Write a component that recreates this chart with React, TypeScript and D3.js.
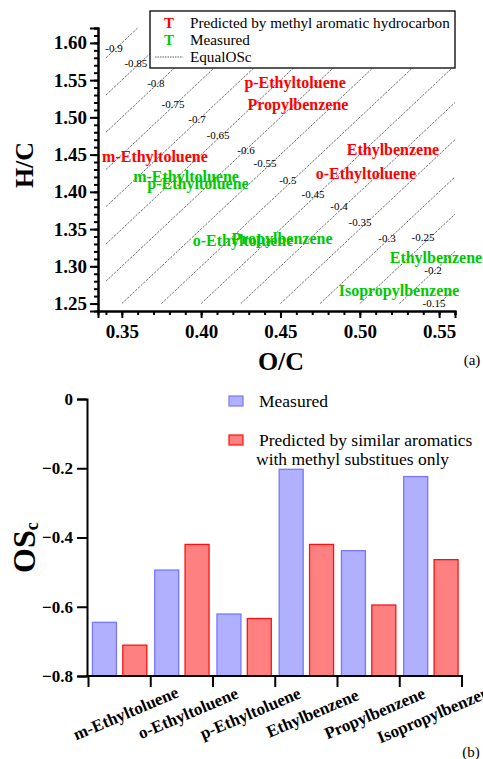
import { useEffect, useRef } from 'react';
import * as d3 from 'd3';

// ---- panel (a): van Krevelen style plot ----
const isoLevels = [-0.9, -0.85, -0.8, -0.75, -0.7, -0.65, -0.6, -0.55, -0.5, -0.45, -0.4, -0.35, -0.3, -0.25, -0.2, -0.15];
const isoLabelOC = [0.3451, 0.3589, 0.3715, 0.3823, 0.3974, 0.4106, 0.4283, 0.4403, 0.4547, 0.4705, 0.4869, 0.5001, 0.5171, 0.5398, 0.5461, 0.5468];
const isoLabelHC = [1.5932, 1.573, 1.5462, 1.518, 1.4978, 1.4763, 1.4562, 1.4387, 1.4159, 1.3971, 1.381, 1.3595, 1.338, 1.3394, 1.2951, 1.2507];

const predictedNames = ['p-Ethyltoluene', 'Propylbenzene', 'm-Ethyltoluene', 'Ethylbenzene', 'o-Ethyltoluene'];
const predictedOC = [0.4592, 0.461, 0.3709, 0.5209, 0.5039];
const predictedHC = [1.5475, 1.518, 1.4481, 1.4575, 1.4253];

const measuredNames = ['m-Ethyltoluene', 'p-Ethyltoluene', 'o-Ethyltoluene', 'Propylbenzene', 'Ethylbenzene', 'Isopropylbenzene'];
const measuredOC = [0.3905, 0.398, 0.4264, 0.451, 0.548, 0.5247];
const measuredHC = [1.4213, 1.4119, 1.3353, 1.338, 1.3125, 1.2682];

const ocTicks = [0.35, 0.4, 0.45, 0.5, 0.55];
const hcTicks = [1.25, 1.3, 1.35, 1.4, 1.45, 1.5, 1.55, 1.6];

// ---- panel (b): bar chart ----
const compounds = ['m-Ethyltoluene', 'o-Ethyltoluene', 'p-Ethyltoluene', 'Ethylbenzene', 'Propylbenzene', 'Isopropylbenzene'];
const measuredOSc = [-0.645, -0.494, -0.621, -0.203, -0.438, -0.224];
const predictedOSc = [-0.711, -0.42, -0.634, -0.42, -0.595, -0.464];
const oscTicks = [0, -0.2, -0.4, -0.6, -0.8];

const RED = '#ff0000';
const GREEN = '#00c800';
const FONT = 'Liberation Serif, Times New Roman, serif';

export default function App() {
  const svgRef = useRef<SVGSVGElement>(null);

  useEffect(() => {
    const svg = d3.select(svgRef.current);
    svg.selectAll('*').remove();

    // ===================== panel (a) =====================
    const x = d3.scaleLinear().domain([0.335, 0.56]).range([98, 455]);
    const y = d3.scaleLinear().domain([1.24, 1.62]).range([311, 28]);

    const ga = svg.append('g');

    // equal OSc lines: H/C = 2 O/C - OSc
    const xLo = 0.34, xHi = 0.56, yLo = 1.25, yHi = 1.62;
    isoLevels.forEach((os) => {
      const x0 = Math.max(xLo, (yLo + os) / 2);
      const x1 = Math.min(xHi, (yHi + os) / 2);
      if (x1 <= x0) return;
      ga.append('line')
        .attr('x1', x(x0)).attr('y1', y(2 * x0 - os))
        .attr('x2', x(x1)).attr('y2', y(2 * x1 - os))
        .attr('stroke', '#333')
        .attr('stroke-width', 0.7)
        .attr('stroke-dasharray', '2.5,1.2');
    });

    isoLevels.forEach((os, i) => {
      ga.append('text')
        .attr('x', x(isoLabelOC[i]))
        .attr('y', y(isoLabelHC[i]))
        .attr('dy', '0.35em')
        .attr('text-anchor', 'middle')
        .style('font-size', '11px')
        .text(String(os));
    });

    // compound labels
    const addLabels = (names, ocs, hcs, color) => {
      names.forEach((n, i) => {
        ga.append('text')
          .attr('x', x(ocs[i]))
          .attr('y', y(hcs[i]))
          .attr('dy', '0.35em')
          .attr('text-anchor', 'middle')
          .attr('fill', color)
          .style('font-size', '16px')
          .style('font-weight', 'bold')
          .text(n);
      });
    };
    addLabels(predictedNames, predictedOC, predictedHC, RED);
    addLabels(measuredNames, measuredOC, measuredHC, GREEN);

    // axes
    const yAxis = d3.axisLeft(y).tickValues(hcTicks).tickSize(8).tickPadding(3).tickFormat(d3.format('.2f'));
    const yMinor = d3.axisLeft(y).tickValues(d3.range(1.25, 1.621, 0.01)).tickSize(4).tickFormat(() => '');
    const xAxis = d3.axisBottom(x).tickValues(ocTicks).tickSize(7).tickPadding(7).tickFormat(d3.format('.2f'));
    const xMinor = d3.axisBottom(x).tickValues(d3.range(0.34, 0.561, 0.01)).tickSize(4).tickFormat(() => '');

    [yMinor, yAxis].forEach((ax) => {
      ga.append('g').attr('transform', 'translate(98,0)').call(ax);
    });
    [xMinor, xAxis].forEach((ax) => {
      ga.append('g').attr('transform', 'translate(0,311)').call(ax);
    });
    ga.selectAll('.domain').attr('stroke-width', 2);
    ga.selectAll('.tick line').attr('stroke-width', 2);
    ga.selectAll('.tick text')
      .style('font-size', '19px')
      .style('font-weight', 'bold')
      .attr('fill', '#000');

    ga.append('text')
      .attr('transform', 'translate(33,165) rotate(-90)')
      .attr('text-anchor', 'middle')
      .style('font-size', '26px')
      .style('font-weight', 'bold')
      .text('H/C');
    ga.append('text')
      .attr('x', 281).attr('y', 370)
      .attr('text-anchor', 'middle')
      .style('font-size', '26px')
      .style('font-weight', 'bold')
      .text('O/C');
    ga.append('text')
      .attr('x', 472).attr('y', 365)
      .attr('text-anchor', 'middle')
      .style('font-size', '15px')
      .text('(a)');

    // legend (a)
    const lg = ga.append('g');
    lg.append('rect')
      .attr('x', 150).attr('y', 11).attr('width', 305).attr('height', 57)
      .attr('fill', '#fff').attr('stroke', '#000').attr('stroke-width', 1.3);
    const legRows = [
      { mark: 'T', color: RED, label: 'Predicted by methyl aromatic hydrocarbon' },
      { mark: 'T', color: GREEN, label: 'Measured' },
      { mark: null, color: '#333', label: 'EqualOSc' },
    ];
    legRows.forEach((r, i) => {
      const ry = 23 + i * 17;
      if (r.mark) {
        lg.append('text')
          .attr('x', 169).attr('y', ry).attr('dy', '0.35em')
          .attr('text-anchor', 'middle')
          .attr('fill', r.color)
          .style('font-size', '15px').style('font-weight', 'bold')
          .text(r.mark);
      } else {
        lg.append('line')
          .attr('x1', 155).attr('x2', 183).attr('y1', ry).attr('y2', ry)
          .attr('stroke', r.color).attr('stroke-width', 0.8)
          .attr('stroke-dasharray', '1.5,1');
      }
      lg.append('text')
        .attr('x', 190).attr('y', ry).attr('dy', '0.35em')
        .style('font-size', '15.2px')
        .text(r.label);
    });

    // ===================== panel (b) =====================
    const gb = svg.append('g');
    const xb = d3.scaleBand().domain(compounds).range([88.5, 462]).paddingInner(0).paddingOuter(0);
    const inner = d3.scaleBand().domain(['m', 'p']).range([0, xb.bandwidth()]).paddingInner(0.21).paddingOuter(0.13);
    const yb = d3.scaleLinear().domain([-0.8, 0]).range([676, 399]);

    compounds.forEach((c, i) => {
      gb.append('rect')
        .attr('x', xb(c) + inner('m'))
        .attr('y', yb(measuredOSc[i]))
        .attr('width', inner.bandwidth())
        .attr('height', yb(-0.8) - yb(measuredOSc[i]))
        .attr('fill', '#b0b0ff')
        .attr('stroke', '#7878ff')
        .attr('stroke-width', 1.3);
      gb.append('rect')
        .attr('x', xb(c) + inner('p'))
        .attr('y', yb(predictedOSc[i]))
        .attr('width', inner.bandwidth())
        .attr('height', yb(-0.8) - yb(predictedOSc[i]))
        .attr('fill', '#ff8080')
        .attr('stroke', '#ff1010')
        .attr('stroke-width', 1.3);
    });

    // y axis
    const ybAxis = d3.axisLeft(yb).tickValues(oscTicks).tickSize(10).tickPadding(4)
      .tickFormat((d) => (d === 0 ? '0' : d3.format('.1f')(d)));
    gb.append('g').attr('transform', 'translate(87,0)').call(ybAxis);

    // x axis with ticks at category boundaries
    const edges = compounds.map((c) => xb(c)).concat([xb(compounds[compounds.length - 1]) + xb.bandwidth()]);
    gb.append('line')
      .attr('x1', 86).attr('x2', 463).attr('y1', 676).attr('y2', 676)
      .attr('stroke', '#000').attr('stroke-width', 2);
    edges.forEach((e) => {
      gb.append('line')
        .attr('x1', e).attr('x2', e).attr('y1', 676).attr('y2', 687)
        .attr('stroke', '#000').attr('stroke-width', 2);
    });
    compounds.forEach((c) => {
      const cx = xb(c) + xb.bandwidth() / 2 + 6;
      gb.append('text')
        .attr('transform', `translate(${cx},713) rotate(-23)`)
        .attr('text-anchor', 'middle')
        .attr('dy', '0.35em')
        .style('font-size', '17px')
        .style('font-weight', 'bold')
        .text(c);
    });

    gb.selectAll('.domain').attr('stroke-width', 2);
    gb.selectAll('.tick line').attr('stroke-width', 2);
    gb.selectAll('.tick text')
      .style('font-size', '17px')
      .style('font-weight', 'bold')
      .attr('fill', '#000');

    const osl = gb.append('text')
      .attr('transform', 'translate(35,573) rotate(-90)')
      .style('font-weight', 'bold');
    osl.append('tspan').style('font-size', '32px').text('OS');
    osl.append('tspan').attr('dy', 3).style('font-size', '18px').text('c');

    // legend (b)
    const legB = [
      { fill: '#b0b0ff', stroke: '#7878ff', lines: ['Measured'], y: 401 },
      { fill: '#ff8080', stroke: '#ff1010', lines: ['Predicted by similar aromatics', 'with methyl substitues only'], y: 440 },
    ];
    legB.forEach((l) => {
      gb.append('rect')
        .attr('x', 229).attr('y', l.y - 5).attr('width', 14).attr('height', 10)
        .attr('fill', l.fill).attr('stroke', l.stroke).attr('stroke-width', 1.2);
      l.lines.forEach((t, j) => {
        gb.append('text')
          .attr('x', j === 0 ? 259 : 256)
          .attr('y', l.y + j * 19)
          .attr('dy', '0.35em')
          .style('font-size', '17.5px')
          .text(t);
      });
    });

    gb.append('text')
      .attr('x', 471).attr('y', 757)
      .attr('text-anchor', 'middle')
      .style('font-size', '15px')
      .text('(b)');

    // one serif face for every text, axes included
    svg.selectAll('g').attr('font-family', null);
    svg.selectAll('text').style('font-family', FONT);
  }, []);

  return (
    <div style={{ position: 'absolute', left: 0, top: 0 }}>
      <svg ref={svgRef} width={483} height={759} style={{ display: 'block' }}></svg>
    </div>
  );
}
